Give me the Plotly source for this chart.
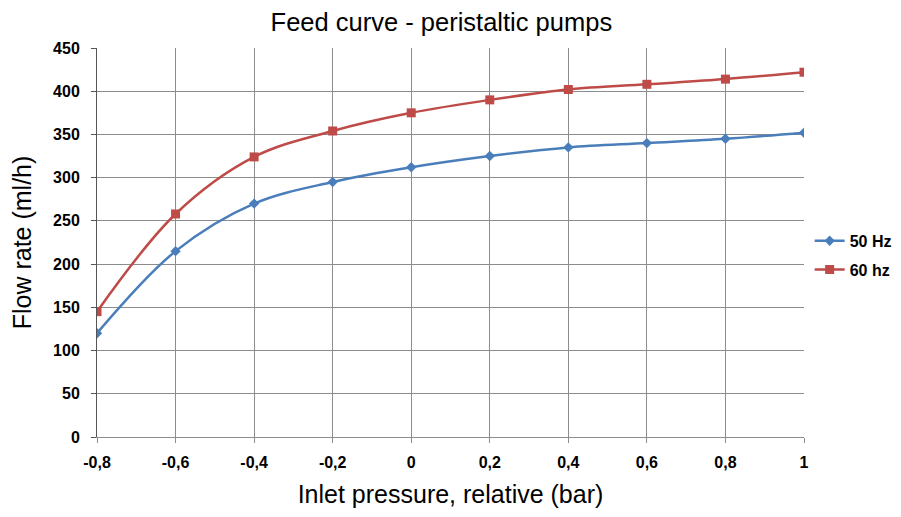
import plotly.graph_objects as go

pressure = [-0.8, -0.6, -0.4, -0.2, 0, 0.2, 0.4, 0.6, 0.8, 1.0]
flow_50hz = [120, 215, 270, 295, 312, 325, 335, 340, 345, 352]
flow_60hz = [145, 258, 324, 354, 375, 390, 402, 408, 414, 422]
x_ticks = [-0.8, -0.6, -0.4, -0.2, 0, 0.2, 0.4, 0.6, 0.8, 1.0]
x_labels = ["-0,8", "-0,6", "-0,4", "-0,2", "0", "0,2", "0,4", "0,6", "0,8", "1"]
y_ticks = list(range(0, 451, 50))

fig = go.Figure()
fig.add_trace(go.Scatter(
    x=pressure, y=flow_50hz, name="50 Hz", mode="lines+markers", legendgroup="a",
    line=dict(color="#4A7EBB", width=2.5, shape="spline", smoothing=1.0),
    marker=dict(symbol="diamond", size=8, color="#4A7EBB"),
))
fig.add_trace(go.Scatter(
    x=pressure, y=flow_60hz, name="60 hz", mode="lines+markers", legendgroup="b",
    line=dict(color="#BE4B48", width=2.5, shape="spline", smoothing=1.0),
    marker=dict(symbol="square", size=9, color="#BE4B48"),
))

fig.update_layout(
    width=901, height=517,
    paper_bgcolor="white", plot_bgcolor="white",
    margin=dict(l=86, r=88, t=40, b=88),
    title=dict(text="Feed curve - peristaltic pumps", x=0.481, xanchor="center",
               y=0.973, yanchor="middle",
               font=dict(family="Liberation Sans, Arial", size=25.5, color="#000")),
    font=dict(family="Liberation Sans, Arial", color="#000"),
    legend=dict(x=1.008, y=0.467, xanchor="left", yanchor="middle",
                font=dict(size=16, family="Liberation Sans, Arial", weight="bold"),
                bgcolor="rgba(0,0,0,0)", tracegroupgap=5, traceorder="grouped"),
    showlegend=True,
)
fig.update_xaxes(
    range=[-0.8, 1.0], tickvals=x_ticks, ticktext=x_labels,
    showgrid=True, gridcolor="#8c8c8c", gridwidth=1,
    showline=True, linecolor="#8c8c8c", linewidth=1,
    ticks="outside", ticklen=5, tickcolor="#8c8c8c",
    ticklabelstandoff=6,
    tickfont=dict(size=16, weight="bold"),
    title=dict(text="Inlet pressure, relative (bar)", font=dict(size=25), standoff=15),
    zeroline=False,
)
fig.update_yaxes(
    range=[0, 450], tickvals=y_ticks,
    showgrid=True, gridcolor="#8c8c8c", gridwidth=1,
    showline=True, linecolor="#555555", linewidth=1,
    ticks="outside", ticklen=5, tickcolor="#555555",
    ticklabelstandoff=8,
    tickfont=dict(size=16, weight="bold"),
    title=dict(text="Flow rate (ml/h)", font=dict(size=25), standoff=16),
    zeroline=False,
)

fig.write_html("out.html")
